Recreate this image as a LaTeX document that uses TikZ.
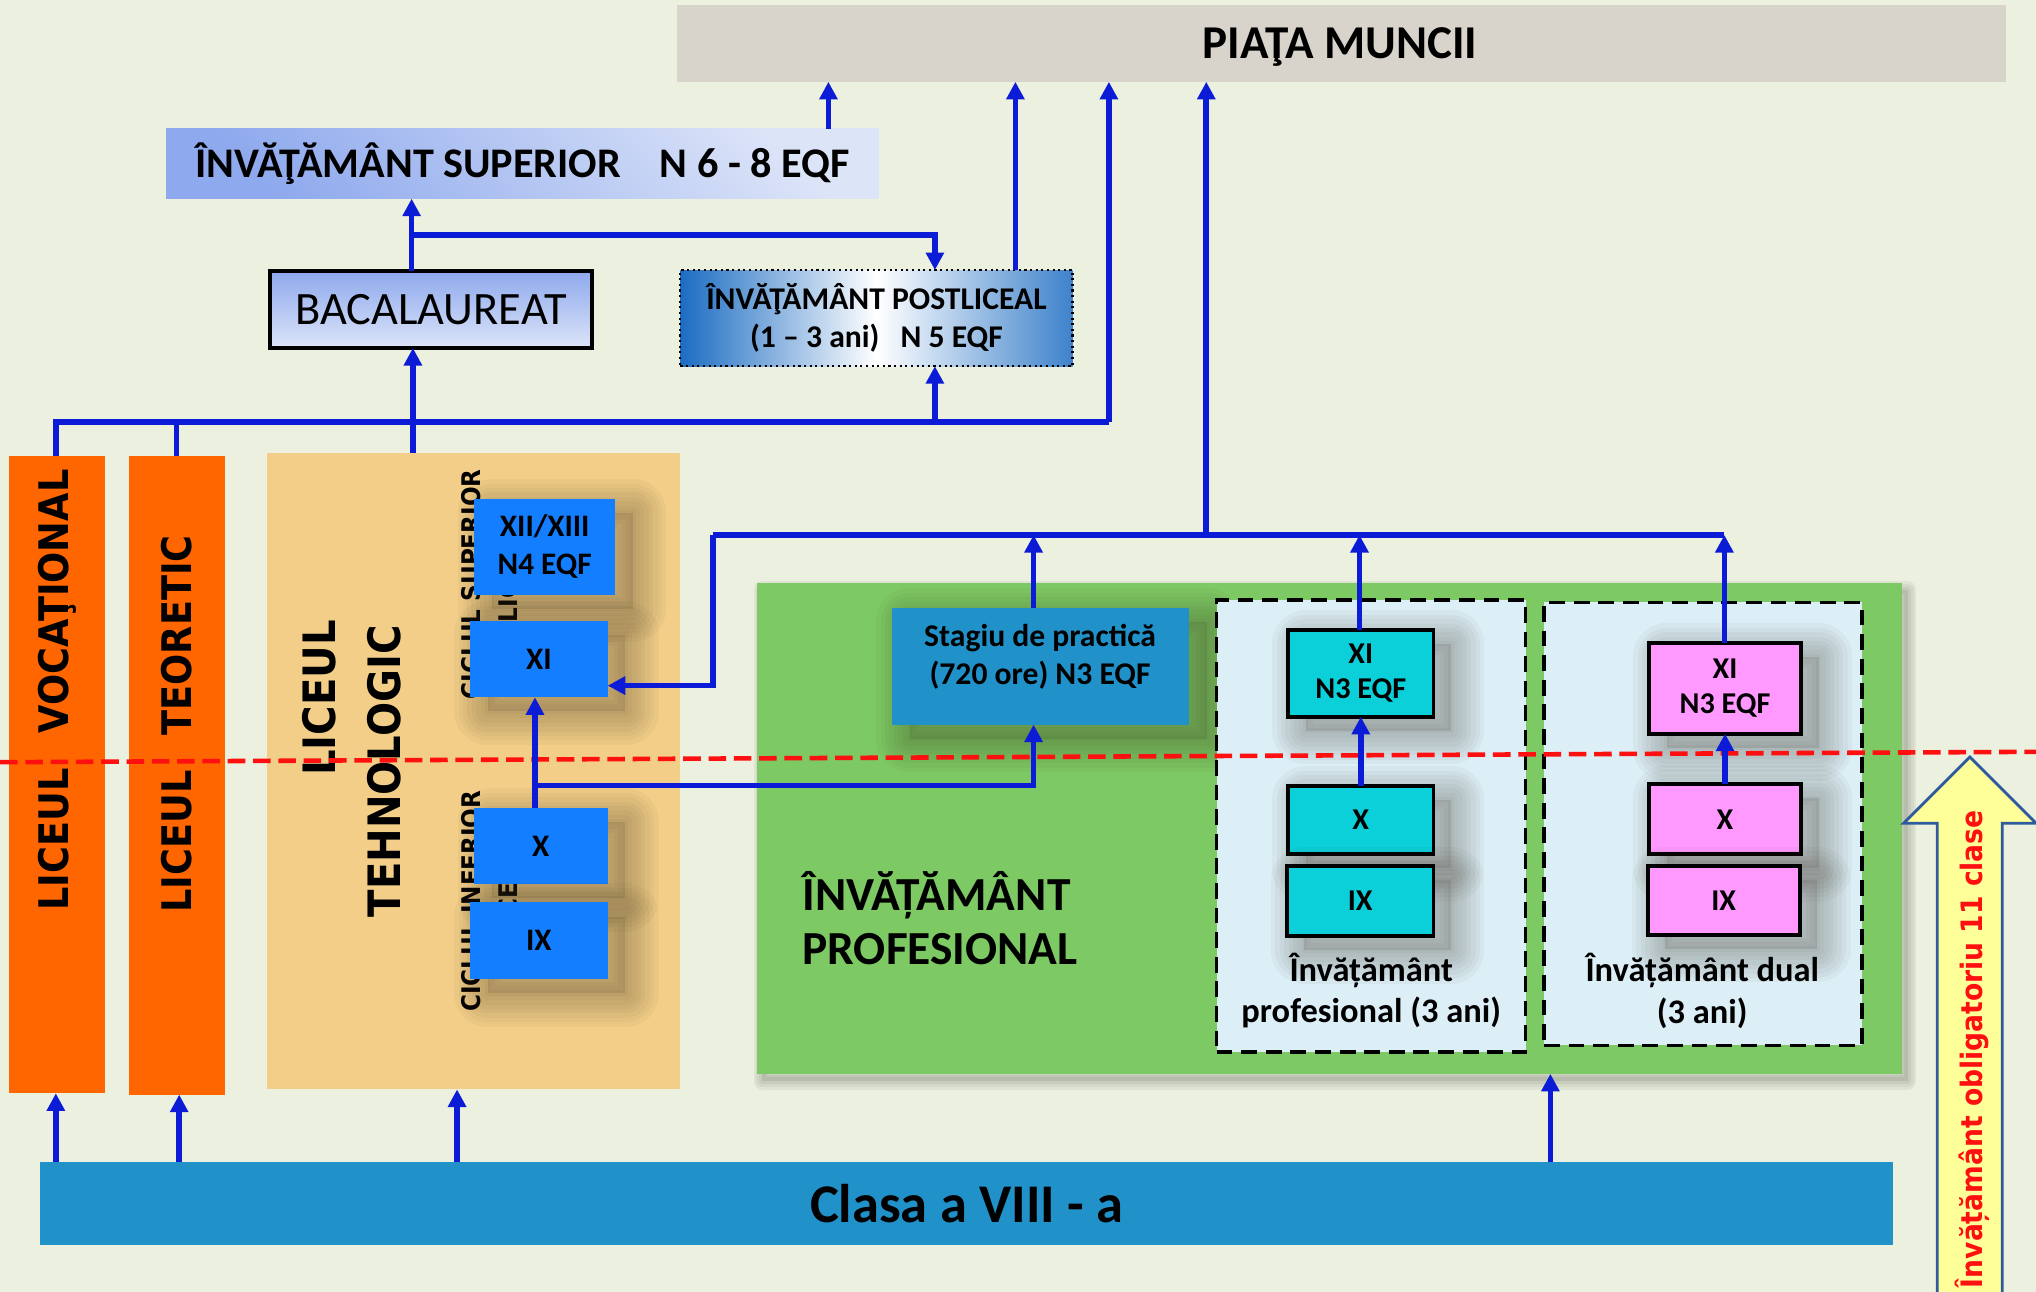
\documentclass[tikz,border=0pt]{standalone}
\usepackage{fontspec}
\setmainfont{Carlito}
\newfontfamily\vfont[FakeStretch=0.9]{DejaVu Sans}
\usetikzlibrary{arrows.meta}
\def\pxu{0.012985cm}
\definecolor{bgc}{HTML}{EBF1DE}
\definecolor{piatac}{HTML}{D8D4CC}
\definecolor{lnc}{HTML}{0B1BD6}
\definecolor{orangec}{HTML}{FF6600}
\definecolor{tanc}{HTML}{F2CE88}
\definecolor{techc}{HTML}{137EFF}
\definecolor{greenc}{HTML}{7DC963}
\definecolor{stagc}{HTML}{2191C9}
\definecolor{dashc}{HTML}{DCEEF6}
\definecolor{cyanc}{HTML}{0BCFD9}
\definecolor{pinkc}{HTML}{FF99FF}
\definecolor{supdark}{HTML}{8EA9ED}
\definecolor{suplight}{HTML}{DCE4F8}
\definecolor{postc}{HTML}{1C6CC2}
\definecolor{yelc}{HTML}{FFFF99}
\definecolor{yeld}{HTML}{2E5A9E}
\definecolor{redc}{HTML}{FF1010}
\definecolor{shc}{HTML}{3A3020}
\begin{document}
\begin{tikzpicture}[x=0.012985cm,y=-0.012985cm,
  wh/.style 2 args={minimum width=#1*\pxu, minimum height=#2*\pxu},
  box/.style={inner sep=0pt, outer sep=0pt, align=center, text=black},
  conn/.style={draw=lnc, line width=1.6pt},
  arr/.style={conn, -{Triangle[length=5pt,width=5pt]}},
  ring/.style={preaction={draw=shc, draw opacity=0.04, line width=#1, line join=round, transform canvas={xshift=5pt,yshift=-4pt}}},
  shd/.style={preaction={fill=shc, fill opacity=0.12, transform canvas={xshift=5pt,yshift=-4pt}},
    ring=19pt, ring=16.5pt, ring=14pt, ring=11.5pt, ring=9pt, ring=6.5pt, ring=4pt, ring=1.5pt},
  ringsm/.style={preaction={draw=black, draw opacity=0.05, line width=#1, line join=round, transform canvas={xshift=1.5pt,yshift=-2pt}}},
  shdsmall/.style={preaction={fill=black, fill opacity=0.08, transform canvas={xshift=1.5pt,yshift=-2pt}},
    ringsm=5pt, ringsm=3.5pt, ringsm=2pt},
  techbox/.style={box, fill=techc, font=\bfseries\fontsize{8.9}{10.7}\selectfont, shd},
  gradebox/.style={box, draw=black, line width=1.1pt, font=\bfseries\fontsize{8.6}{10}\selectfont, shd},
  pinkbox/.style={gradebox, fill=pinkc},
  dashbox/.style={box, fill=dashc, draw=black, line width=1pt, dash pattern=on 4.5pt off 2.5pt},
  ciclu/.style={rotate=90, align=center, font=\vfont\bfseries\fontsize{7.3}{10.7}\selectfont},
  bigv/.style={rotate=90, font=\vfont\bfseries\fontsize{11.6}{14}\selectfont}
]
\useasboundingbox (0,0) rectangle (1568,995);
\clip (0,0) rectangle (1568,995);
\fill[bgc] (0,0) rectangle (1568,995);

% top
\node[box, fill=piatac, wh={1024}{59}] (piata) at (1033,33.5) {};
\node[box, font=\bfseries\fontsize{13.4}{16}\selectfont] (piatatxt) at (1032,36) {PIAŢA MUNCII};
\node[box, wh={549}{54}, top color=suplight, bottom color=supdark, shading angle=-45,
  font=\bfseries\fontsize{12}{14}\selectfont] (sup) at (402.5,126) {ÎNVĂŢĂMÂNT SUPERIOR\hspace{11pt}N 6 - 8 EQF};
\node[box, wh={248}{59}, draw=black, line width=1.2pt, top color=supdark, bottom color=suplight,
  font=\fontsize{13.2}{15}\selectfont] (bac) at (332,238.5) {BACALAUREAT};
\node[box, wh={302}{74}, left color=postc, right color=postc!85!white, middle color=white,
  draw=black, densely dotted, line width=0.6pt, font=\bfseries\fontsize{9}{10.7}\selectfont] (post) at (675,245)
  {ÎNVĂŢĂMÂNT POSTLICEAL\\(1 -- 3 ani)\hspace{6pt}N 5 EQF};

% lycees
\node[box, fill=orangec, wh={74}{491}] (voc) at (44,596.5) {};
\node[bigv] (voctxt) at (44,531.5) {LICEUL\hspace{10pt}VOCAŢIONAL};
\node[box, fill=orangec, wh={74}{492}] (teo) at (136,597) {};
\node[bigv] (teotxt) at (136,557.5) {LICEUL\hspace{10pt}TEORETIC};
\node[box, fill=tanc, wh={318}{490}] (teh) at (365,594) {};
\node[rotate=90, font=\vfont\bfseries\fontsize{12.7}{16}\selectfont] (tehtxt1) at (246,537.5) {LICEUL};
\node[rotate=90, font=\vfont\bfseries\fontsize{12.7}{16}\selectfont] (tehtxt2) at (296,594) {TEHNOLOGIC};
\node[ciclu] (cs) at (377,450) {CICLUL SUPERIOR\\AL LICEULUI};
\node[ciclu] (ci) at (377,694) {CICLUL INFERIOR\\AL LICEULUI};
\node[techbox, wh={109}{74}] (xii) at (419.5,421) {XII/XIII\\N4 EQF};
\node[techbox, wh={106}{59}] (xit) at (415,507.5) {XI};
\node[techbox, wh={103}{59}] (xt) at (416.5,651.5) {X};
\node[techbox, wh={106}{59}] (ixt) at (415,724.5) {IX};

% profesional
\node[box, fill=greenc, wh={882}{378}, shdsmall] (green) at (1024,638) {};
\node[box, fill=stagc, wh={229}{90}, shd] (stagiu) at (801.5,513) {};
\node[box, font=\bfseries\fontsize{9}{10.7}\selectfont] (stagtxt) at (801,506) {Stagiu de practică\\(720 ore) N3 EQF};
\node[box, align=left, font=\bfseries\fontsize{13.5}{15.5}\selectfont, anchor=west] (proftxt) at (618,707) {ÎNVĂȚĂMÂNT\\PROFESIONAL};
\node[dashbox, wh={238}{348}] (dash1) at (1056,636) {};
\node[dashbox, wh={245}{341}] (dash2) at (1311.5,634.5) {};
\node[gradebox, fill=cyanc, wh={112}{67}] (cxi) at (1048,518.5) {XI\\N3 EQF};
\node[gradebox, fill=cyanc, wh={112}{53}] (cx) at (1048,631.5) {X};
\node[gradebox, fill=cyanc, wh={113}{54}] (cix) at (1047.5,694) {IX};
\node[pinkbox, wh={117}{70}] (pxi) at (1328.5,530) {XI\\N3 EQF};
\node[pinkbox, wh={117}{54}] (px) at (1328.5,631) {X};
\node[pinkbox, wh={117}{53}] (pix) at (1327.5,693.5) {IX};
\node[box, font=\bfseries\fontsize{9.8}{11.8}\selectfont] (proflab) at (1056,763) {Învățământ\\profesional (3 ani)};
\node[box, font=\bfseries\fontsize{9.8}{11.8}\selectfont] (duallab) at (1311,763) {Învățământ dual\\(3 ani)};

% bottom bar
\node[box, fill=stagc, wh={1427}{64}, font=\bfseries\fontsize{15.5}{18}\selectfont] (clasa) at (744.5,927) {Clasa a VIII - a};

% yellow arrow
\draw[fill=yelc, draw=yeld, line width=0.8pt] (1492,1005) -- (1492,634) -- (1466,634) -- (1517,583) -- (1568,634) -- (1542,634) -- (1542,1005) -- cycle;
\node[rotate=90, text=redc, font=\vfont\bfseries\fontsize{8.4}{10}\selectfont] (oblig) at (1519,808) {Învățământ obligatoriu 11 clase};

% red dashed line
\draw[redc, line width=1.3pt, dash pattern=on 5pt off 2.2pt] (0,587) -- (1568,579);

% connectors
\coordinate (busL) at (43,325);
\coordinate (busR) at (854,325);
\coordinate (bpost) at (720,325);
\coordinate (j1) at (317,181);
\coordinate (j1r) at (720,181);
\coordinate (b2L) at (549,412);
\coordinate (b2M) at (929,412);
\coordinate (b2R) at (1328,412);
\coordinate (b2D) at (549,528);
\coordinate (j2) at (412,605);
\coordinate (j3) at (796,605);

\draw[arr] (638,0 |- sup.north) -- (638,0 |- piata.south);
\draw[arr] (317,0 |- bac.north) -- (317,0 |- sup.south);
\draw[arr] (j1) -- (j1r) -- (j1r |- post.north);
\draw[arr] (782,0 |- post.north) -- (782,0 |- piata.south);
\draw[conn] (43,0 |- voc.north) -- (busL) -- (busR);
\draw[conn] (136,0 |- teo.north) -- (136,0 |- busL);
\draw[arr] (busR) -- (854,0 |- piata.south);
\draw[arr] (318,0 |- teh.north) -- (318,0 |- bac.south);
\draw[arr] (bpost) -- (bpost |- post.south);

\draw[conn] (b2L) -- (b2R);
\draw[arr] (b2L) -- (b2D) -- (b2D -| xit.east);
\draw[arr] (b2M) -- (929,0 |- piata.south);
\draw[arr] (796,0 |- stagiu.north) -- (796,0 |- b2L);
\draw[arr] (1047,0 |- cxi.north) -- (1047,0 |- b2L);
\draw[arr] (1328,0 |- pxi.north) -- (b2R);

\draw[arr] (xt.north -| 412,0) -- (xit.south -| 412,0);
\draw[arr] (j2) -- (j3) -- (j3 |- stagiu.south);
\draw[arr] (cx.north) -- (cxi.south);
\draw[arr] (px.north) -- (pxi.south);

\draw[arr] (43,0 |- clasa.north) -- (43,0 |- voc.south);
\draw[arr] (138,0 |- clasa.north) -- (138,0 |- teo.south);
\draw[arr] (352,0 |- clasa.north) -- (352,0 |- teh.south);
\draw[arr] (1194,0 |- clasa.north) -- (1194,0 |- green.south);
\end{tikzpicture}
\end{document}
